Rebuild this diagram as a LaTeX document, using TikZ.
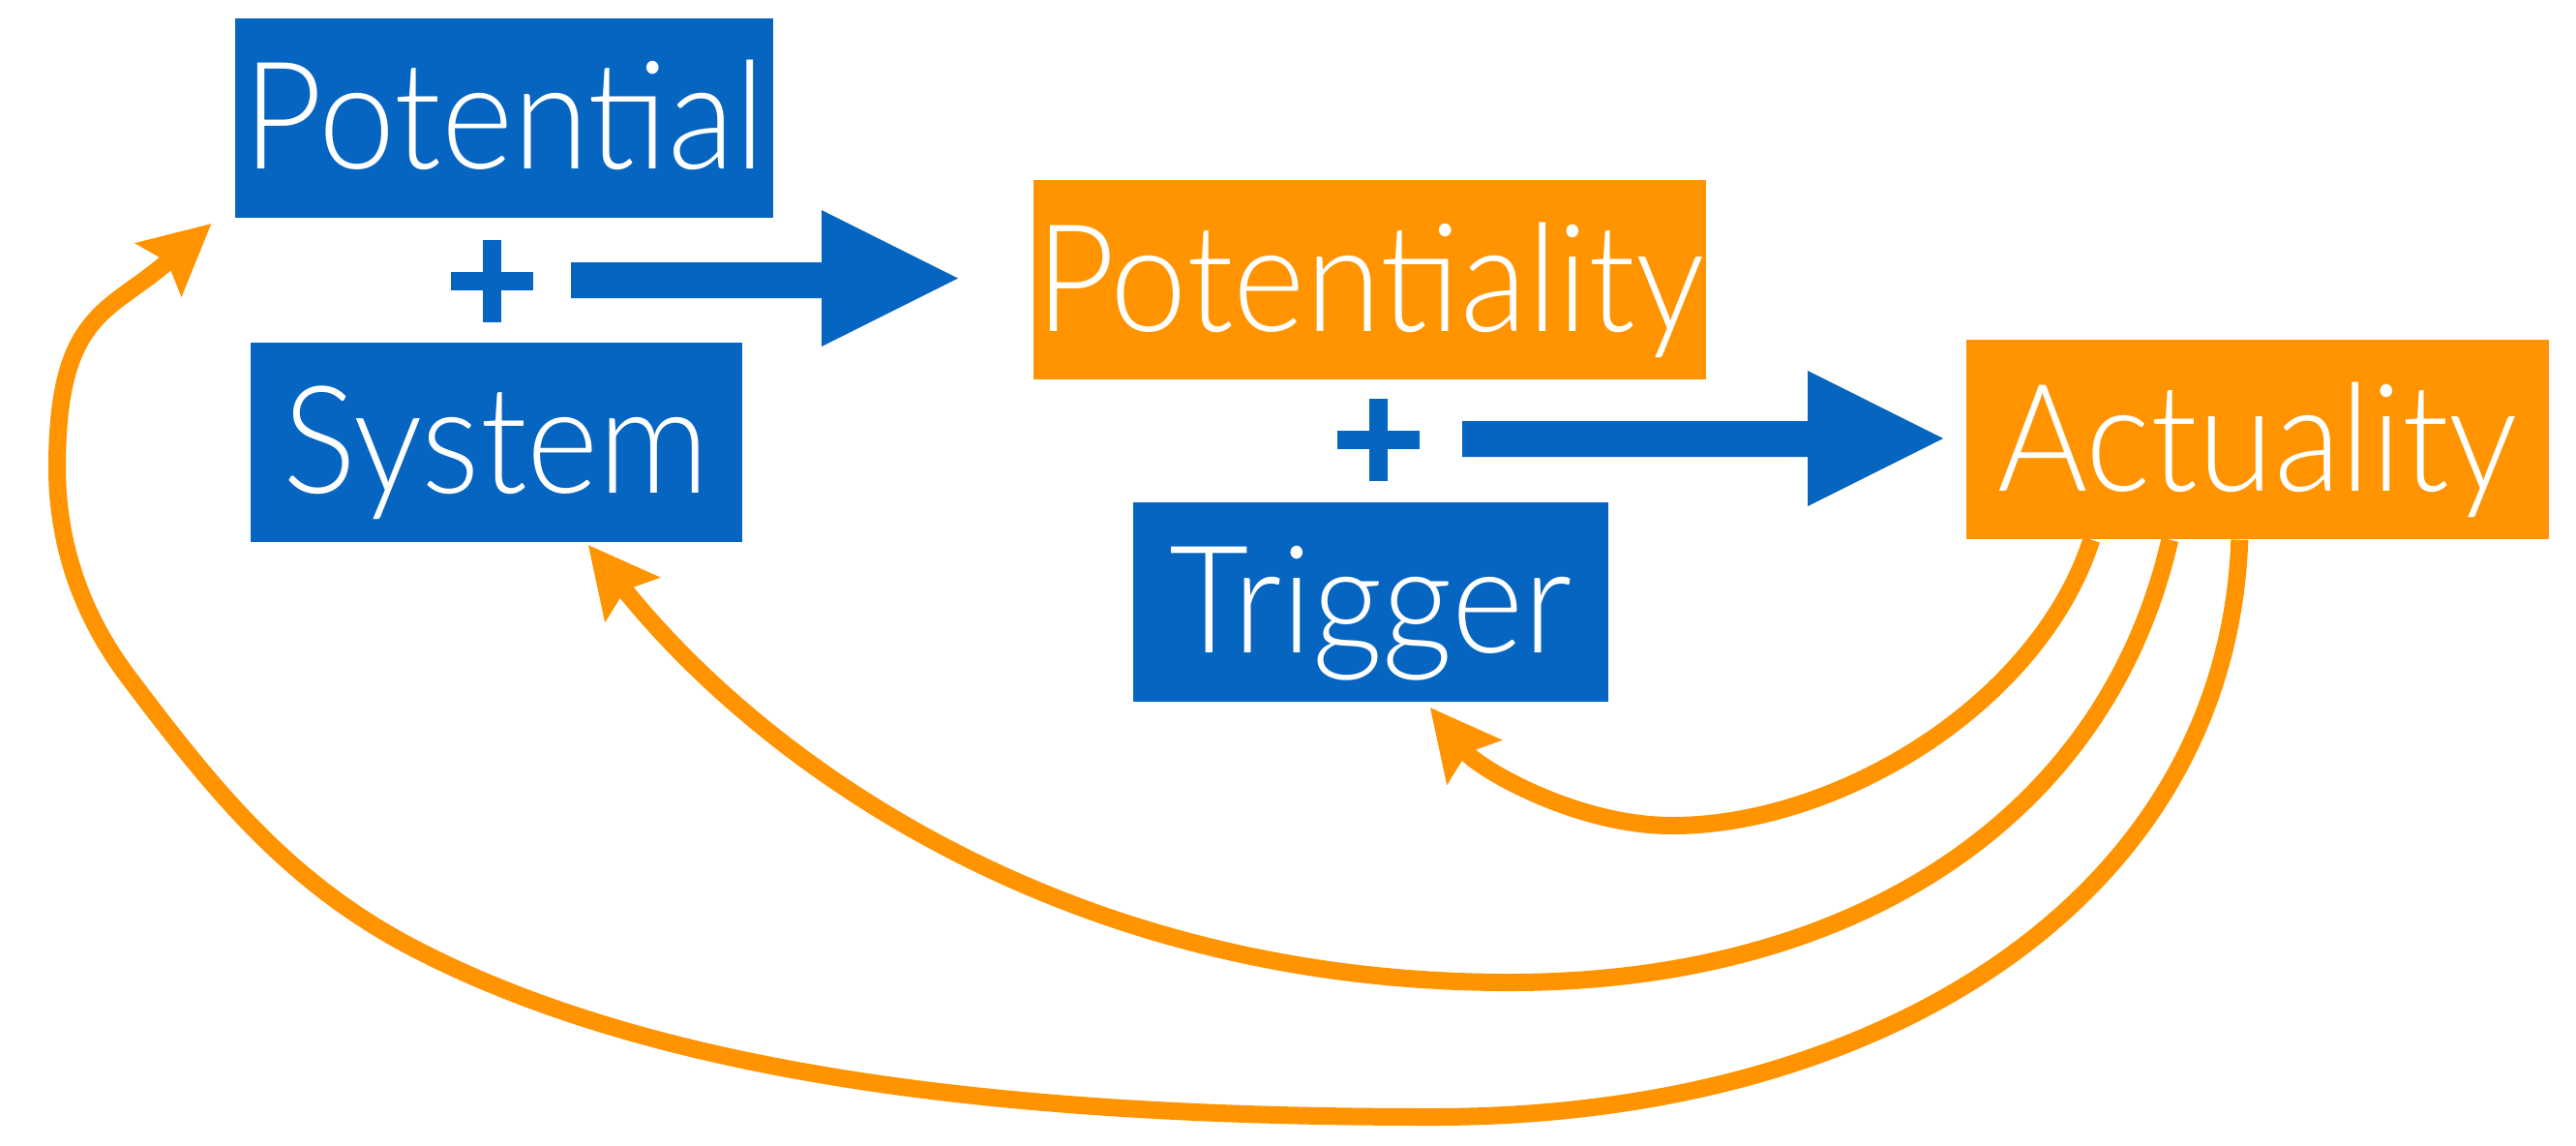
\documentclass[tikz,border=0pt]{standalone}
\usepackage{fontspec}
\setmainfont{Lato}[UprightFont=* Light, FakeStretch=0.92]
\usepackage{tikz}
\definecolor{boxblue}{RGB}{5,101,192}
\definecolor{boxorange}{RGB}{255,147,0}
\usetikzlibrary{arrows.meta}

\begin{document}
\begin{tikzpicture}[
        box/.style={minimum height=2.06cm, inner sep=0pt, text=white, text height=1.06cm, text depth=0pt, font=\fontsize{44}{44}\selectfont},
        bluebox/.style={box, fill=boxblue},
        orangebox/.style={box, fill=boxorange},
        back/.style={draw=boxorange, line width=0.18cm, -{Stealth[length=0.73cm, width=0.74cm, inset=0.13cm, line width=0pt]}},
        plus/.style={draw=boxblue, line width=0.19cm}
    ]
        \useasboundingbox (0,0) rectangle (26.62,-11.83);

        \node[bluebox, minimum width=5.56cm] (pot) at (5.21,-1.215) {Potential};
        \node[bluebox, minimum width=5.08cm] (sys) at (5.13,-4.565) {System};
        \node[orangebox, minimum width=6.95cm] (potl) at (14.155,-2.89) {Potentiality};
        \node[bluebox, minimum width=4.91cm] (trig) at (14.165,-6.215) {Trigger};
        \node[orangebox, minimum width=6.02cm] (act) at (23.33,-4.54) {Actuality};

        \draw[plus] (5.08,-2.475) -- (5.08,-3.325) (4.655,-2.90) -- (5.505,-2.90);
        \draw[plus] (14.24,-4.12) -- (14.24,-4.97) (13.815,-4.545) -- (14.665,-4.545);

        \fill[boxblue] (5.90,-2.71) -- (8.49,-2.71) -- (8.49,-2.17) -- (9.90,-2.875) -- (8.49,-3.58) -- (8.49,-3.08) -- (5.90,-3.08) -- cycle;
        \fill[boxblue] (15.11,-4.35) -- (18.68,-4.35) -- (18.68,-3.83) -- (20.08,-4.53) -- (18.68,-5.23) -- (18.68,-4.72) -- (15.11,-4.72) -- cycle;

        \coordinate (aA) at ([xshift=1.30cm]act.south west);
        \coordinate (aB) at ([xshift=2.11cm]act.south west);
        \coordinate (aC) at ([xshift=2.83cm]act.south west);
        \coordinate (tA) at ([shift={(0.615,-0.06)}]trig.south);
        \coordinate (tB) at ([shift={(0.95,-0.03)}]sys.south);
        \coordinate (tC) at ([shift={(-0.24,-0.06)}]pot.south west);

        \draw[back] (aA) to[out=252, in=0, out distance=1.8cm, in distance=1.7cm] (17.28,-8.53)
            to[out=180, in=-51, out distance=1.0cm, in distance=0.8cm] (tA);
        \draw[back] (aB) to[out=257, in=0, out distance=3.0cm, in distance=3.5cm] (15.60,-10.15)
            to[out=180, in=-51, out distance=4.5cm, in distance=3.0cm] (tB);
        \draw[back] (aC) to[out=268, in=0, out distance=3.6cm, in distance=4.8cm] (14.8,-11.54)
            to[out=180, in=-27, out distance=4cm, in distance=3cm] (4.34,-9.83)
            to[out=153, in=-53, out distance=1.5cm, in distance=1.5cm] (1.33,-7.00)
            to[out=127, in=270, out distance=0.8cm, in distance=0.8cm] (0.59,-4.83)
            to[out=90, in=221, out distance=1.6cm, in distance=1.4cm] (tC);
\end{tikzpicture}
\end{document}
